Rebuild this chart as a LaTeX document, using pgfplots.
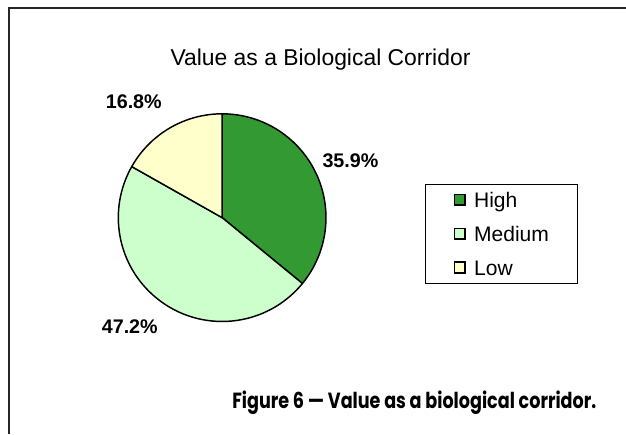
\documentclass[border=0pt]{standalone}
\usepackage{pgfplots}
\usepackage{pgfplotstable}
\pgfplotsset{compat=1.18}
\usepackage{fontspec}
\setmainfont{Liberation Sans}
\newfontfamily\capfont[FakeStretch=0.8]{Poppins}
\definecolor{high}{HTML}{339933}
\definecolor{medium}{HTML}{CCFFCC}
\definecolor{low}{HTML}{FFFFCC}

\pgfplotstableread{
label value
High 35.9
Medium 47.2
Low 16.8
}\piedata

\begin{document}
\begin{tikzpicture}
\pgfplotstablegetelem{0}{value}\of\piedata \pgfmathsetmacro{\vA}{\pgfplotsretval}
\pgfplotstablegetelem{1}{value}\of\piedata \pgfmathsetmacro{\vB}{\pgfplotsretval}
\pgfplotstablegetelem{2}{value}\of\piedata \pgfmathsetmacro{\vC}{\pgfplotsretval}
\pgfmathsetmacro{\tot}{\vA+\vB+\vC}
\pgfmathsetmacro{\aA}{90}
\pgfmathsetmacro{\aB}{90-\vA*(360/\tot)}
\pgfmathsetmacro{\aC}{\aB-\vB*(360/\tot)}
\pgfmathsetmacro{\aD}{\aC-\vC*(360/\tot)}
\begin{axis}[
  x=0.75pt, y=0.75pt,
  xmin=0, xmax=626, ymin=0, ymax=434,
  hide axis, clip=false,
  legend style={
    at={(axis cs:425.7,250)}, anchor=north west,
    draw=black, line width=0.75pt, fill=white,
    inner xsep=21.2pt, inner ysep=5.8pt,
    row sep=13.5pt, column sep=6.2pt,
    font=\fontsize{15.8}{18}\selectfont,
    nodes={inner sep=0pt, text height=11.5pt, text depth=0.5pt, anchor=base west},
  },
  legend image code/.code={\draw[#1, line width=1.1pt] (0pt,1.7pt) rectangle (8pt,9.7pt);},
]
\path (axis cs:0,0) rectangle (axis cs:626,434);
% frame
\draw[line width=1.5pt, color=black!85, line cap=rect] (axis cs:9,0) -- (axis cs:9,426.3) -- (axis cs:626,426.3);
% title
\node[font=\fontsize{17.2}{20}\selectfont, anchor=base] at (axis cs:321,368) {Value as a Biological Corridor};
% pie
\filldraw[fill=high, draw=black, line width=1.1pt, line join=round] (axis cs:222.5,216) -- ++(\aA:78pt) arc[start angle=\aA, end angle=\aB, radius=78pt] -- cycle;
\filldraw[fill=medium, draw=black, line width=1.1pt, line join=round] (axis cs:222.5,216) -- ++(\aB:78pt) arc[start angle=\aB, end angle=\aC, radius=78pt] -- cycle;
\filldraw[fill=low, draw=black, line width=1.1pt, line join=round] (axis cs:222.5,216) -- ++(\aC:78pt) arc[start angle=\aC, end angle=\aD, radius=78pt] -- cycle;
% labels
\node[font=\fontsize{14.8}{17}\selectfont\bfseries] at (axis cs:134,332) {16.8\%};
\node[font=\fontsize{14.8}{17}\selectfont\bfseries] at (axis cs:351,273) {35.9\%};
\node[font=\fontsize{14.8}{17}\selectfont\bfseries] at (axis cs:130,107) {47.2\%};
% legend
\addlegendimage{fill=high, draw=black}
\addlegendentry{High}
\addlegendimage{fill=medium, draw=black}
\addlegendentry{Medium}
\addlegendimage{fill=low, draw=black}
\addlegendentry{Low}
% caption
\node[anchor=base east, font=\capfont\bfseries\fontsize{16.5}{19}\selectfont] at (axis cs:602,25) {Figure 6 — Value as a biological corridor.};
\end{axis}
\end{tikzpicture}
\end{document}
